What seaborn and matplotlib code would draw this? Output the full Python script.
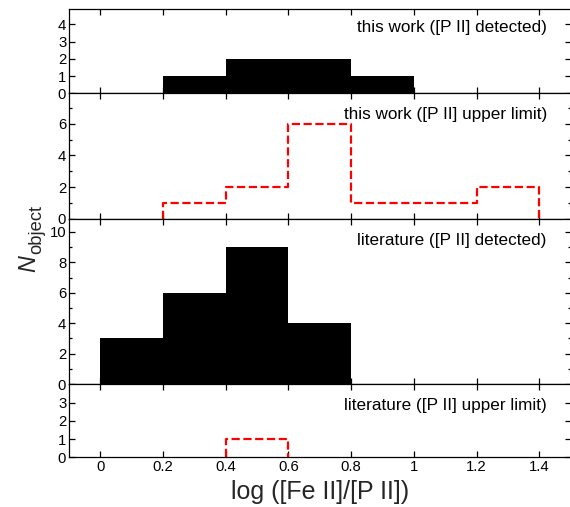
import numpy as np
import pandas as pd
import matplotlib
matplotlib.use("Agg")
import matplotlib.pyplot as plt
import seaborn as sns
from matplotlib.ticker import MultipleLocator, FixedLocator

# ---- data ----
bin_left = [0.0, 0.2, 0.4, 0.6, 0.8, 1.0, 1.2]
bin_width = 0.2
this_work_detected = [0, 1, 2, 2, 1, 0, 0]
this_work_upper = [0, 1, 2, 6, 1, 1, 2]
literature_detected = [3, 6, 9, 4, 0, 0, 0]
literature_upper = [0, 0, 1, 0, 0, 0, 0]
panel_labels = ["this work ([P II] detected)",
                "this work ([P II] upper limit)",
                "literature ([P II] detected)",
                "literature ([P II] upper limit)"]
x_ticks = [0, 0.2, 0.4, 0.6, 0.8, 1.0, 1.2, 1.4]
x_tick_labels = ["0", "0.2", "0.4", "0.6", "0.8", "1", "1.2", "1.4"]
y_ticks = [[0, 1, 2, 3, 4], [0, 2, 4, 6], [0, 2, 4, 6, 8, 10], [0, 1, 2, 3]]
x_label = "log ([Fe II]/[P II])"
y_label_main = "N"
y_label_sub = "object"

sns.set_theme(style="ticks")
plt.rcParams["font.family"] = ["Liberation Sans", "DejaVu Sans"]
plt.rcParams["axes.linewidth"] = 0.9
plt.rcParams["axes.edgecolor"] = "black"

W, H = 570, 507
fig = plt.figure(figsize=(W / 100, H / 100), dpi=100)

left_px, right_px = 69, 570.7
panels_px = [(9, 93.3), (93.3, 219), (219, 384), (384, 457.3)]
ylims = [(0, 4.89), (0, 7.91), (0, 10.85), (0, 4.03)]
yminor = [None, 1, 1, None]
label_offsets = [-18, -21.7, -21, -21.7]
series = [this_work_detected, this_work_upper, literature_detected, literature_upper]
filled = [True, False, True, False]

axes = []
for i, (top, bot) in enumerate(panels_px):
    ax = fig.add_axes([left_px / W, 1 - bot / H, (right_px - left_px) / W, (bot - top) / H])
    axes.append(ax)
    counts = np.asarray(series[i], dtype=float)
    nz = np.nonzero(counts)[0]
    i0, i1 = int(nz[0]), int(nz[-1]) + 1
    lefts = np.asarray(bin_left)
    all_edges = np.append(lefts, lefts[-1] + bin_width)
    edges = [float(e) for e in all_edges[i0:i1 + 1]]
    c = counts[i0:i1]
    if filled[i]:
        df = pd.DataFrame({"x": lefts[i0:i1] + bin_width / 2, "w": c})
        sns.histplot(data=df, x="x", weights="w", bins=edges, element="step",
                     fill=True, color="black", alpha=1, linewidth=0, ax=ax)
    else:
        # open step outline (histogram "step" type) incl. edges down to zero
        xs = [edges[0]] + edges + [edges[-1]]
        ys = [0.0] + list(c) + [c[-1], 0.0]
        step_df = pd.DataFrame({"x": xs, "y": ys})
        sns.lineplot(data=step_df, x="x", y="y", sort=False, estimator=None,
                     drawstyle="steps-post", color="#ff0000", linestyle="--",
                     linewidth=1.6, ax=ax)
    ax.set_xlim(-0.1, 1.5)
    ax.set_ylim(*ylims[i])
    ax.set_xlabel("")
    ax.set_ylabel("")
    ax.set_xticks(x_ticks)
    ax.yaxis.set_major_locator(FixedLocator(y_ticks[i]))
    if yminor[i]:
        ax.yaxis.set_minor_locator(MultipleLocator(yminor[i]))
    ax.tick_params(which="both", direction="in", top=True, right=True,
                   width=0.9, colors="black", labelsize=10.7, pad=2)
    ax.tick_params(which="major", length=4)
    ax.tick_params(which="minor", length=2.2)
    if i < 3:
        ax.tick_params(axis="x", labelbottom=False)
    else:
        ax.set_xticklabels(x_tick_labels)
    ax.annotate(panel_labels[i], xy=(1.424, 1), xycoords=("data", "axes fraction"),
                xytext=(0, label_offsets[i]), textcoords="offset pixels",
                ha="right", va="center", fontsize=12.3, color="black")

axes[-1].set_xlabel(x_label, fontsize=18, labelpad=4)
fig.text(35 / W, 1 - 271.5 / H, y_label_main, rotation=90, rotation_mode="anchor",
         ha="left", va="baseline", fontsize=16.8, fontstyle="italic")
fig.text(41.7 / W, 1 - 254.5 / H, y_label_sub, rotation=90, rotation_mode="anchor",
         ha="left", va="baseline", fontsize=13.2)

fig.savefig("out.png", dpi=100)
